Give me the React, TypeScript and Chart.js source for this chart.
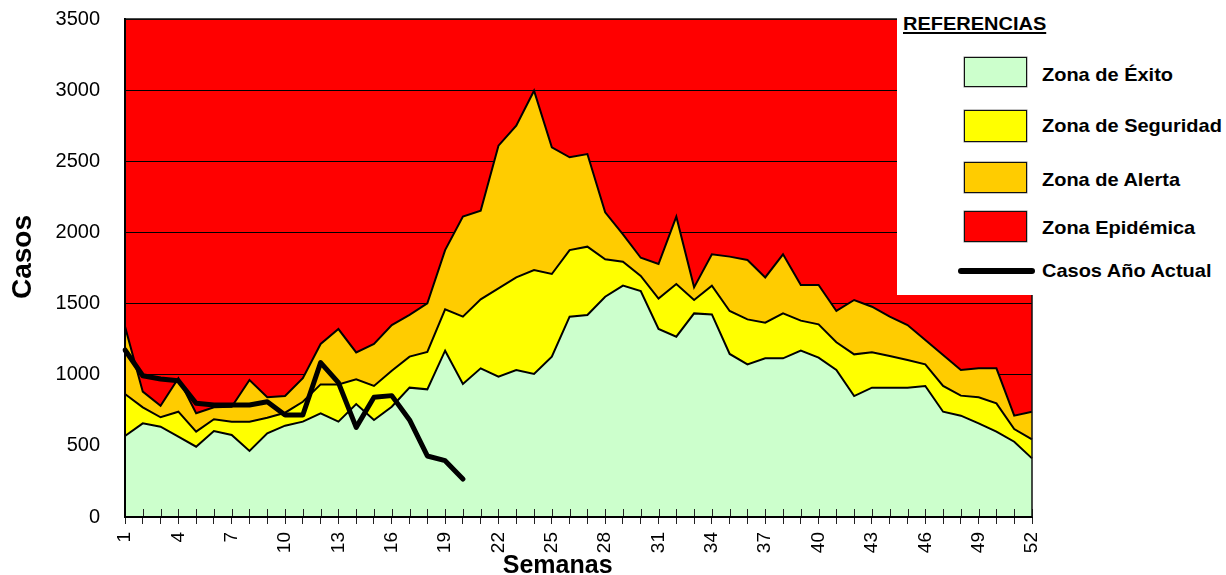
import React, { useEffect, useRef } from 'react';
import { Chart, registerables } from 'chart.js';

Chart.register(...registerables);

const FONT = "'Liberation Sans', Arial, sans-serif";

const weeks = ['1','2','3','4','5','6','7','8','9','10','11','12','13','14','15','16','17','18','19','20','21','22','23','24','25','26','27','28','29','30','31','32','33','34','35','36','37','38','39','40','41','42','43','44','45','46','47','48','49','50','51','52'];
const shownWeekLabels = ['1','4','7','10','13','16','19','22','25','28','31','34','37','40','43','46','49','52'];

const zonaExito = [569,658,635,565,494,604,576,464,588,642,670,729,670,794,682,775,909,897,1169,935,1045,986,1033,1005,1127,1408,1420,1548,1626,1588,1321,1267,1431,1424,1146,1073,1115,1115,1169,1120,1033,850,909,909,909,921,740,712,658,600,529,412];
const zonaSeguridad = [864,771,701,740,600,687,670,670,698,733,810,932,932,968,921,1028,1127,1160,1460,1408,1530,1607,1684,1736,1708,1876,1900,1811,1794,1694,1535,1637,1525,1626,1448,1389,1366,1431,1380,1354,1228,1143,1157,1131,1103,1073,921,853,841,799,618,546];
const zonaAlerta = [1338,881,782,975,729,771,775,963,841,850,975,1216,1321,1157,1216,1349,1420,1502,1876,2111,2153,2610,2750,2996,2598,2528,2551,2141,1987,1822,1778,2111,1614,1846,1830,1806,1684,1846,1631,1631,1448,1525,1478,1408,1349,1244,1139,1033,1045,1045,712,740];
const casosActual = [1174,993,970,958,799,787,787,787,810,717,717,1085,944,630,841,853,682,429,396,267,null,null,null,null,null,null,null,null,null,null,null,null,null,null,null,null,null,null,null,null,null,null,null,null,null,null,null,null,null,null,null,null];

const yMin = 0;
const yMax = 3500;
const yStep = 500;

const COLORS = {
  exito: '#CCFFCC',
  seguridad: '#FFFF00',
  alerta: '#FFCC00',
  epidemica: '#FF0000',
};

const legendItems = [
  { label: 'Zona de Éxito', color: COLORS.exito },
  { label: 'Zona de Seguridad', color: COLORS.seguridad },
  { label: 'Zona de Alerta', color: COLORS.alerta },
  { label: 'Zona Epidémica', color: COLORS.epidemica },
];

const bgPlugin = {
  id: 'plotBg',
  beforeDraw(chart: any) {
    const { ctx, chartArea } = chart;
    ctx.save();
    ctx.fillStyle = COLORS.epidemica;
    ctx.fillRect(chartArea.left, chartArea.top, chartArea.right - chartArea.left, chartArea.bottom - chartArea.top);
    ctx.restore();
  },
};

const framePlugin = {
  id: 'frame',
  afterDatasetsDraw(chart: any) {
    const { ctx, chartArea } = chart;
    const xs = chart.scales.x;
    ctx.save();
    ctx.strokeStyle = '#222';
    ctx.lineWidth = 1;
    for (let i = 0; i < weeks.length; i++) {
      const x = Math.round(xs.getPixelForTick(i)) + 0.5;
      ctx.beginPath();
      ctx.moveTo(x, chartArea.bottom - 8);
      ctx.lineTo(x, chartArea.bottom);
      ctx.stroke();
    }
    ctx.strokeStyle = '#111';
    ctx.lineWidth = 1.5;
    ctx.beginPath();
    ctx.moveTo(chartArea.left, chartArea.top);
    ctx.lineTo(chartArea.right, chartArea.top);
    ctx.lineTo(chartArea.right, chartArea.bottom);
    ctx.stroke();
    ctx.strokeStyle = '#000';
    ctx.lineWidth = 2;
    ctx.beginPath();
    ctx.moveTo(chartArea.left, chartArea.top);
    ctx.lineTo(chartArea.left, chartArea.bottom);
    ctx.lineTo(chartArea.right, chartArea.bottom);
    ctx.stroke();
    ctx.restore();
  },
  afterDraw(chart: any) {
    const { ctx, chartArea } = chart;
    const w = chartArea.right - chartArea.left;
    const h = chartArea.bottom - chartArea.top;
    ctx.save();
    ctx.fillStyle = '#000';
    ctx.textAlign = 'center';
    ctx.textBaseline = 'middle';
    ctx.font = `bold 25px ${FONT}`;
    ctx.fillText('Semanas', chartArea.left + w * 0.477, 566);
    ctx.translate(23, chartArea.top + h * 0.478);
    ctx.rotate(-Math.PI / 2);
    ctx.font = `bold 28px ${FONT}`;
    ctx.fillText('Casos', 0, 0);
    ctx.restore();
  },
};

function Legend() {
  const txt: React.CSSProperties = {
    position: 'absolute',
    fontFamily: FONT,
    fontWeight: 'bold',
    fontSize: '18.5px',
    lineHeight: '24px',
    whiteSpace: 'nowrap',
    color: '#000',
    transform: 'scaleX(1.08)',
    transformOrigin: 'left center',
  };
  const swatchTops = [56.7, 110, 162.3, 210.7];
  const swatchHeights = [30, 32.3, 30.4, 31.6];
  const labelCenters = [74.7, 126.3, 180.3, 228];
  return (
    <div style={{ position: 'absolute', left: 897, top: 0, width: 329, height: 295, background: '#fff' }}>
      <div style={{ ...txt, left: 6, top: 11.5, textDecoration: 'underline', textDecorationThickness: '2px', textUnderlineOffset: '2px' }}>REFERENCIAS</div>
      {legendItems.map((it, i) => (
        <React.Fragment key={it.label}>
          <div style={{ position: 'absolute', left: 67, top: swatchTops[i], width: 63, height: swatchHeights[i], background: it.color, border: '1.5px solid #111', boxSizing: 'border-box', boxShadow: '0 0 0 0.5px #888' }} />
          <div style={{ ...txt, left: 144.7, top: labelCenters[i] - 12 }}>{it.label}</div>
        </React.Fragment>
      ))}
      <div style={{ position: 'absolute', left: 61, top: 267.7, width: 77, height: 6, background: '#000', borderRadius: 3 }} />
      <div style={{ ...txt, left: 144.7, top: 270.8 - 12 }}>Casos Año Actual</div>
    </div>
  );
}

export default function App() {
  const canvasRef = useRef<HTMLCanvasElement | null>(null);

  useEffect(() => {
    const canvas = canvasRef.current;
    if (!canvas) return;
    const chart = new Chart(canvas, {
      type: 'line',
      data: {
        labels: weeks,
        datasets: [
          {
            label: 'Casos Año Actual',
            data: casosActual,
            borderColor: '#000',
            borderWidth: 5,
            borderCapStyle: 'round',
            borderJoinStyle: 'round',
            pointRadius: 0,
            fill: false,
            spanGaps: false,
            tension: 0,
            order: 0,
          },
          {
            label: 'Zona de Éxito',
            data: zonaExito,
            borderColor: '#000',
            borderWidth: 2,
            backgroundColor: COLORS.exito,
            pointRadius: 0,
            fill: 'origin',
            tension: 0,
            order: 1,
          },
          {
            label: 'Zona de Seguridad',
            data: zonaSeguridad,
            borderColor: '#000',
            borderWidth: 2,
            backgroundColor: COLORS.seguridad,
            pointRadius: 0,
            fill: 1,
            tension: 0,
            order: 2,
          },
          {
            label: 'Zona de Alerta',
            data: zonaAlerta,
            borderColor: '#000',
            borderWidth: 2,
            backgroundColor: COLORS.alerta,
            pointRadius: 0,
            fill: 2,
            tension: 0,
            order: 3,
          },
        ],
      } as any,
      options: {
        responsive: false,
        animation: false,
        devicePixelRatio: 1,
        layout: { autoPadding: false, padding: { top: 19, right: 194, left: 0, bottom: 0 } },
        plugins: {
          legend: { display: false },
          tooltip: { enabled: false },
          title: { display: false },
        },
        scales: {
          x: {
            type: 'category',
            offset: false,
            grid: { display: true, drawOnChartArea: false, drawTicks: true, tickLength: 7, color: '#222', lineWidth: 1 },
            border: { display: true, color: '#000', width: 2 },
            ticks: {
              autoSkip: false,
              maxRotation: 90,
              minRotation: 90,
              padding: 8,
              color: '#000',
              font: { family: FONT, size: 19 },
              callback: (_v: any, index: number) => {
                const lbl = weeks[index];
                return shownWeekLabels.includes(lbl) ? lbl : '';
              },
            },
            afterFit: (scale: any) => {
              scale.height = 58;
              scale.paddingLeft = 0;
              scale.paddingRight = 0;
            },
          },
          y: {
            min: yMin,
            max: yMax,
            grid: { display: true, drawOnChartArea: true, drawTicks: false, color: '#000', lineWidth: 1 },
            border: { display: true, color: '#000', width: 2 },
            ticks: {
              stepSize: yStep,
              padding: 25,
              color: '#000',
              font: { family: FONT, size: 20 },
              callback: (v: any) => String(v),
            },
            afterFit: (scale: any) => {
              scale.width = 125;
              scale.paddingTop = 0;
              scale.paddingBottom = 0;
            },
          },
        },
      } as any,
      plugins: [bgPlugin, framePlugin],
    });
    return () => chart.destroy();
  }, []);

  return (
    <div style={{ position: 'absolute', left: 0, top: 0, width: 1226, height: 575, background: '#fff', overflow: 'hidden' }}>
      <canvas ref={canvasRef} width={1226} height={575} style={{ display: 'block', width: 1226, height: 575 }} />
      <Legend />
    </div>
  );
}
